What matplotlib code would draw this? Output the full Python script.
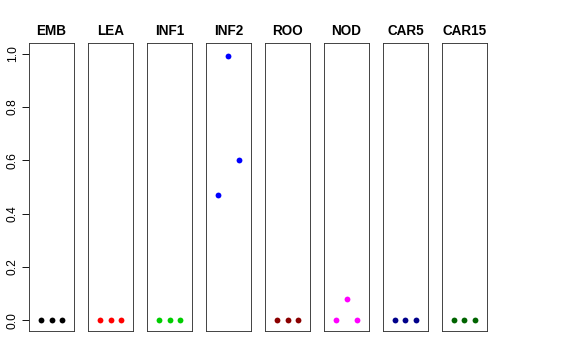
import matplotlib
matplotlib.use("Agg")
import matplotlib.pyplot as plt

plt.rcParams['font.family'] = ['Liberation Sans', 'DejaVu Sans']

tissues = ["EMB", "LEA", "INF1", "INF2", "ROO", "NOD", "CAR5", "CAR15"]
colors = ["black", "red", "#00CD00", "blue", "#8B0000", "magenta", "#00008B", "#006400"]
reps = [1, 2, 3]
values = [
    [0.0, 0.0, 0.0],
    [0.0, 0.0, 0.0],
    [0.0, 0.0, 0.0],
    [0.47, 0.99, 0.60],
    [0.0, 0.0, 0.0],
    [0.0, 0.08, 0.0],
    [0.0, 0.0, 0.0],
    [0.0, 0.0, 0.0],
]
yticks = [0.0, 0.2, 0.4, 0.6, 0.8, 1.0]

fig = plt.figure(figsize=(8, 5), dpi=72)

left = 29 / 576
width = 45 / 576
step = 59 / 576
bottom = 1 - 331 / 360
height = 288 / 360

for i, name in enumerate(tissues):
    ax = fig.add_axes([left + i * step, bottom, width, height])
    ax.scatter(reps, values[i], s=34, color=colors[i], linewidths=0, zorder=3)
    ax.set_xlim(-0.16, 4.16)
    ax.set_ylim(-0.04, 1.04)
    ax.set_xticks([])
    ax.set_title(name, fontsize=13.5, fontweight='bold', pad=8)
    for sp in ax.spines.values():
        sp.set_linewidth(0.9)
        sp.set_color('#333333')
    if i == 0:
        ax.set_yticks(yticks)
        ax.set_yticklabels([f"{t:.1f}" for t in yticks], rotation=90, va='center', fontsize=12)
        ax.tick_params(axis='y', length=7, width=0.9, pad=3)
    else:
        ax.set_yticks([])

fig.savefig("out.png", dpi=72)
